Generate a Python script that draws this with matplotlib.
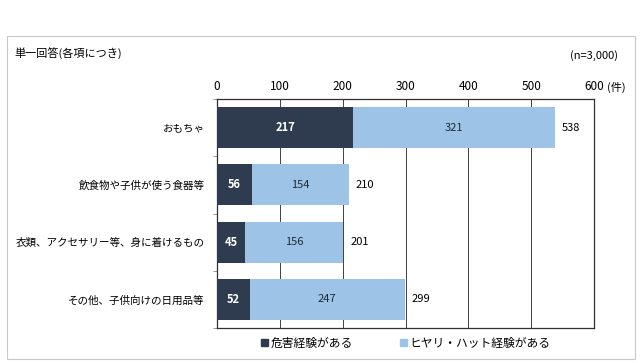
import matplotlib
matplotlib.use("Agg")
import matplotlib.pyplot as plt
import numpy as np
from matplotlib.patches import Rectangle

plt.rcParams['font.family'] = ['Noto Sans CJK JP', 'DejaVu Sans']

categories = ["おもちゃ", "飲食物や子供が使う食器等", "衣類、アクセサリー等、身に着けるもの", "その他、子供向けの日用品等"]
harm = [217, 56, 45, 52]
nearmiss = [321, 154, 156, 247]
totals = [538, 210, 201, 299]
series_names = ["危害経験がある", "ヒヤリ・ハット経験がある"]
xticks = [0, 100, 200, 300, 400, 500, 600]

dark = "#2f3b4f"
light = "#9dc3e6"

fig = plt.figure(figsize=(6.4, 3.63), dpi=100)
# outer frame
fig.patches.append(Rectangle((7 / 640, 1 - 359 / 363), 628 / 640, 323 / 363,
                             transform=fig.transFigure, fill=False,
                             edgecolor="#c8c8c8", lw=0.8))

ax = fig.add_axes([217 / 640, 1 - 328 / 363, 377 / 640, 229 / 363])
y = np.arange(len(categories))
h = 0.72
ax.barh(y, harm, height=h, color=dark, zorder=3)
ax.barh(y, nearmiss, left=harm, height=h, color=light, zorder=3)

for i in range(len(categories)):
    ax.text(harm[i] / 2, y[i], str(harm[i]), ha="center", va="center",
            color="white", fontsize=8, fontweight="bold", zorder=4)
    ax.text(harm[i] + nearmiss[i] / 2, y[i], str(nearmiss[i]), ha="center",
            va="center", color="#1f2a3a", fontsize=8, zorder=4)
    ax.text(totals[i] + 11, y[i], str(totals[i]), ha="left", va="center",
            color="black", fontsize=8, zorder=4)

ax.set_xlim(0, 600)
ax.set_ylim(len(categories) - 0.5, -0.5)
ax.set_xticks(xticks)
ax.xaxis.tick_top()
ax.tick_params(axis="x", length=0, labelsize=8.5, pad=4)
ax.set_yticks(y)
ax.set_yticklabels(categories, fontsize=7.6)
ax.set_yticks(np.arange(len(categories) + 1) - 0.5, minor=True)
ax.tick_params(axis="y", which="major", length=0, pad=9)
ax.tick_params(axis="y", which="minor", length=3, color="#888888")
ax.grid(axis="x", color="#404040", lw=0.7, zorder=0)
for s in ax.spines.values():
    s.set_color("#303030")
    s.set_linewidth(0.9)

fig.text(14 / 640, 1 - 54 / 363, "単一回答(各項につき)", fontsize=8, va="center", ha="left")
fig.text(618 / 640, 1 - 56 / 363, "(n=3,000)", fontsize=8, va="center", ha="right")
fig.text(607 / 640, 1 - 87 / 363, "(件)", fontsize=8, va="center", ha="left")

handles = [Rectangle((0, 0), 1, 1, color=dark), Rectangle((0, 0), 1, 1, color=light)]
fig.legend(handles, series_names, loc="center", bbox_to_anchor=(406 / 640, 1 - 343 / 363),
           ncol=2, frameon=False, fontsize=8.5, handlelength=0.6, handleheight=0.6,
           handletextpad=0.2, columnspacing=4.0)

fig.savefig("out.png", dpi=100)
